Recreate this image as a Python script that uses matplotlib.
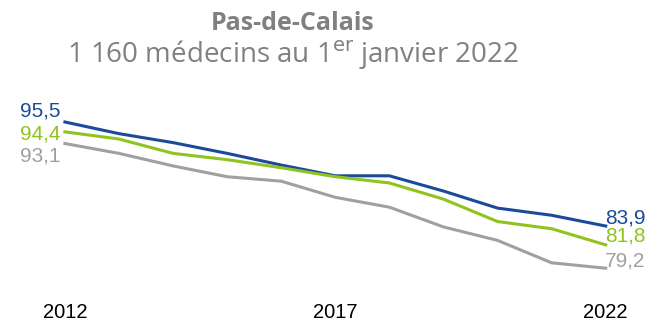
import numpy as np
import matplotlib.pyplot as plt

# density of doctors, three series, 2012-2022
years = np.arange(2012, 2023)
blue_vals = [95.5, 94.2, 93.2, 92.0, 90.7, 89.5, 89.5, 87.8, 85.9, 85.1, 83.9]
green_vals = [94.4, 93.6, 92.0, 91.3, 90.4, 89.4, 88.7, 86.9, 84.4, 83.6, 81.8]
gray_vals = [93.1, 92.0, 90.6, 89.4, 88.9, 87.1, 86.0, 83.8, 82.3, 79.8, 79.2]
tick_years = [2012, 2017, 2022]

title = "Pas-de-Calais"
subtitle = "1 160 médecins au 1$^{\\rm er}$ janvier 2022"

BLUE = "#1c4a9b"
GREEN = "#8fc31f"
GRAY = "#a0a0a0"
TITLE_GRAY = "#808080"
LABEL_FONT = "Liberation Sans"

fig = plt.figure(figsize=(6.49, 3.23), dpi=100)
ax = fig.add_axes([0, 0, 1, 1])
ax.set_xlim(2010.80, 2022.80)
ax.set_ylim(73.09, 109.10)
ax.axis("off")

# (values, colour, start label offset px, end label offset px)
series = [
    (blue_vals, BLUE, (-4, 5), (-1, 3)),
    (green_vals, GREEN, (-4, -8), (-1, 3)),
    (gray_vals, GRAY, (-4, -18), (-1, 2)),
]
for vals, color, left_off, right_off in series:
    ax.plot(years, vals, color=color, linewidth=2.2, solid_joinstyle="round")
    ax.annotate(f"{vals[0]:.1f}".replace(".", ","), (years[0], vals[0]),
                xytext=left_off, textcoords="offset pixels",
                ha="right", va="baseline", color=color, fontsize=15,
                family=LABEL_FONT)
    ax.annotate(f"{vals[-1]:.1f}".replace(".", ","), (years[-1], vals[-1]),
                xytext=right_off, textcoords="offset pixels",
                ha="left", va="baseline", color=color, fontsize=15,
                family=LABEL_FONT)

# year labels along the bottom
for yr in tick_years:
    ax.annotate(str(yr), (yr, 1 - 318 / 323), xycoords=ax.get_xaxis_transform(),
                ha="center", va="baseline", fontsize=14.5, color="black",
                family=LABEL_FONT)

fig.text(0.451, 1 - 30 / 323, title, ha="center", va="baseline", fontsize=18,
         fontweight="bold", color=TITLE_GRAY, family="Open Sans")
fig.text(0.451, 1 - 63 / 323, subtitle, ha="center", va="baseline", fontsize=20,
         color=TITLE_GRAY, family="Open Sans")

fig.savefig("out.png", dpi=100)
